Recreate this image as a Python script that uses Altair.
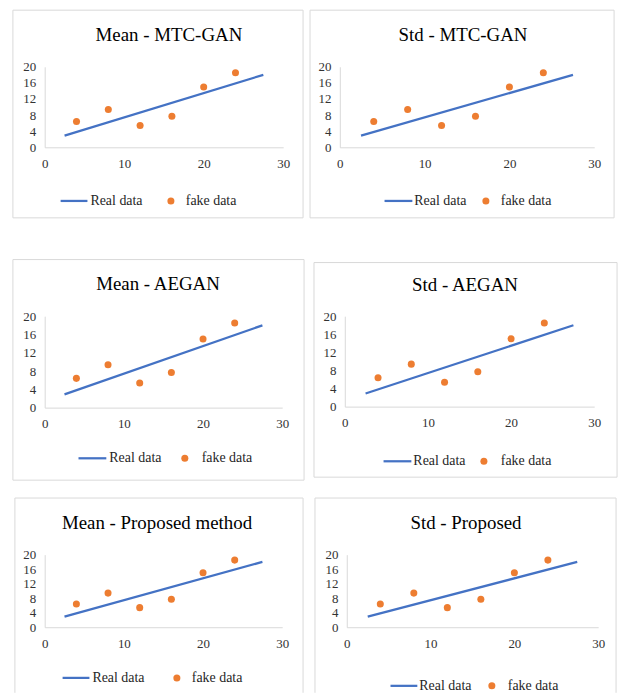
import altair as alt
import pandas as pd

# ---- data ----
fake_x = [4, 8, 12, 16, 20, 24]
fake_y = [6.4, 9.4, 5.4, 7.7, 15.0, 18.5]
real_x = [2.5, 27.5]
real_y = [2.9, 18.0]
titles = ["Mean - MTC-GAN", "Std - MTC-GAN", "Mean - AEGAN", "Std - AEGAN",
          "Mean - Proposed method", "Std - Proposed"]
legend_labels = ["Real data", "fake data"]
x_ticks = [0, 10, 20, 30]
y_ticks = [0, 4, 8, 12, 16, 20]

FONT = "Liberation Serif, Times New Roman, Times, serif"
BLUE = "#4472C4"
ORANGE = "#ED7D31"
GRAY = "#D9D9D9"
TXT = "#333333"

# ---- layout (pixels relative to each plot area's origin) ----
layouts = [
    dict(w=240, h=81, cell=(-45, -65, 264, 172), box=(-32, -57, 260, 152), bottom=True,
         tx=125, ty=-32, ly=135, line=(16, 43), t1=46, dot=127, t2=142),
    dict(w=256, h=81, cell=(-33, -65, 283, 172), box=(-30, -57, 276, 152), bottom=True,
         tx=124, ty=-32, ly=135, line=(45, 73), t1=75, dot=147, t2=162),
    dict(w=239, h=92, cell=(-41, -78, 268, 174), box=(-32, -57, 261, 165), bottom=True,
         tx=114, ty=-32, ly=143, line=(34, 62), t1=65, dot=141, t2=158),
    dict(w=251, h=91, cell=(-34, -79, 282, 173), box=(-31, -54, 274, 162), bottom=True,
         tx=121, ty=-31, ly=146, line=(39, 67), t1=69, dot=140, t2=157),
    dict(w=239, h=73, cell=(-43, -66, 266, 139), box=(-30, -57, 260, 139), bottom=False,
         tx=113, ty=-32, ly=124, line=(18, 45), t1=48, dot=133, t2=148),
    dict(w=253, h=73, cell=(-38, -66, 278, 139), box=(-32, -57, 271, 139), bottom=False,
         tx=120, ty=-32, ly=132, line=(44, 71), t1=73, dot=146, t2=162),
]

real_df = pd.DataFrame({"x": real_x, "y": real_y})
fake_df = pd.DataFrame({"x": fake_x, "y": fake_y})
dummy = pd.DataFrame({"a": [0]})


def deco():
    return alt.Chart(dummy)


def panel(title, L):
    xs = alt.Scale(domain=[0, 30], nice=False)
    ys = alt.Scale(domain=[0, 20], nice=False)
    xa = alt.Axis(values=x_ticks, labelFlush=False, labelOverlap=False, labelPadding=10,
                  labelFont=FONT)
    ya = alt.Axis(values=y_ticks, labelOverlap=False, labelPadding=9, labelFont=FONT)
    xenc = alt.X("x:Q", scale=xs, axis=xa, title=None)
    yenc = alt.Y("y:Q", scale=ys, axis=ya, title=None)

    cx0, cy0, cx1, cy1 = L["cell"]
    cell = deco().mark_rect(opacity=0).encode(
        x=alt.value(cx0), x2=alt.value(cx1), y=alt.value(cy0), y2=alt.value(cy1))

    bx0, by0, bx1, by1 = L["box"]
    sides = [
        deco().mark_rule(color=GRAY, strokeWidth=1).encode(
            x=alt.value(bx0), x2=alt.value(bx1), y=alt.value(by0)),
        deco().mark_rule(color=GRAY, strokeWidth=1).encode(
            x=alt.value(bx0), y=alt.value(by0), y2=alt.value(by1)),
        deco().mark_rule(color=GRAY, strokeWidth=1).encode(
            x=alt.value(bx1), y=alt.value(by0), y2=alt.value(by1)),
    ]
    if L["bottom"]:
        sides.append(deco().mark_rule(color=GRAY, strokeWidth=1).encode(
            x=alt.value(bx0), x2=alt.value(bx1), y=alt.value(by1)))

    line = alt.Chart(real_df).mark_line(color=BLUE, strokeWidth=2.25).encode(
        x=xenc, y=yenc)
    pts = alt.Chart(fake_df).mark_circle(color=ORANGE, size=50, opacity=1).encode(
        x=xenc, y=yenc)

    ttl = deco().mark_text(text=title, font=FONT, fontSize=19, fontWeight="normal",
                           color="#000000", align="center", baseline="middle").encode(
        x=alt.value(L["tx"]), y=alt.value(L["ty"]))

    ly = L["ly"]
    leg = [
        deco().mark_rule(color=BLUE, strokeWidth=2.25).encode(
            x=alt.value(L["line"][0]), x2=alt.value(L["line"][1]), y=alt.value(ly)),
        deco().mark_text(text=legend_labels[0], font=FONT, fontSize=14, color="#262626",
                         align="left", baseline="middle").encode(
            x=alt.value(L["t1"]), y=alt.value(ly)),
        deco().mark_circle(color=ORANGE, size=50, opacity=1).encode(
            x=alt.value(L["dot"]), y=alt.value(ly)),
        deco().mark_text(text=legend_labels[1], font=FONT, fontSize=14, color="#262626",
                         align="left", baseline="middle").encode(
            x=alt.value(L["t2"]), y=alt.value(ly)),
    ]

    return alt.layer(cell, *sides, line, pts, ttl, *leg).properties(
        width=L["w"], height=L["h"])


charts = [panel(t, L) for t, L in zip(titles, layouts)]

chart = alt.vconcat(
    alt.hconcat(charts[0], charts[1], spacing=0),
    alt.hconcat(charts[2], charts[3], spacing=0),
    alt.hconcat(charts[4], charts[5], spacing=0),
    spacing=0,
).properties(padding=0, background="white").configure_view(
    strokeWidth=0
).configure_axis(
    domainColor=GRAY, domainWidth=1, ticks=False, grid=False,
    labelFont=FONT, labelFontSize=13, labelColor=TXT, labelOverlap=False,
).configure_text(font=FONT)

chart.save("out.html", embed_options={"renderer": "svg", "actions": False})
